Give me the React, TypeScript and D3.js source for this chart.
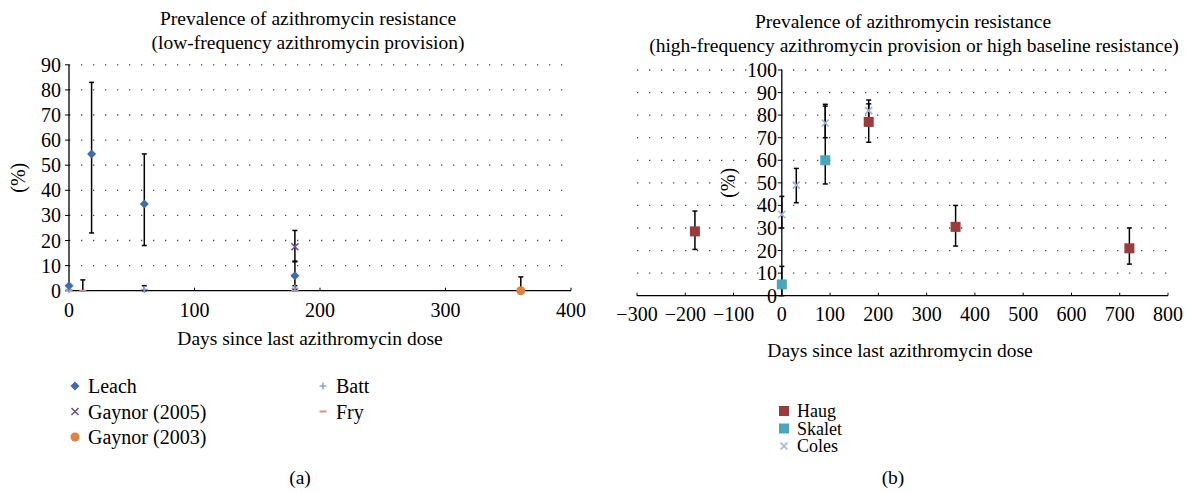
import * as d3 from 'd3';

// ---- panel (a): low-frequency provision ----
const leachX = [0, 18, 60, 180];
const leachY = [2, 54.5, 34.5, 6];
const leachLo = [2, 23, 18, 0.5];
const leachHi = [2, 83, 54.5, 11.8];

const gaynor05X = [180];
const gaynor05Y = [17.5];
const gaynor05Lo = [11.5];
const gaynor05Hi = [24];

const gaynor03X = [360];
const gaynor03Y = [0];
const gaynor03Lo = [0];
const gaynor03Hi = [5.5];

const battX = [0, 60, 180];
const battY = [0.5, 0.5, 1];
const battLo = [0.5, 0, 0];
const battHi = [0.5, 2, 2];

const fryX = [0, 11, 180];
const fryY = [0, 0, 0];
const fryLo = [0, 0, 0];
const fryHi = [0, 4.3, 0];

const leftXTicks = [0, 100, 200, 300, 400];
const leftYTicks = [0, 10, 20, 30, 40, 50, 60, 70, 80, 90];

// ---- panel (b): high-frequency provision ----
const haugX = [-180, 180, 360, 720];
const haugY = [28.5, 77, 30.5, 21];
const haugLo = [20.5, 68, 22, 14];
const haugHi = [37.5, 86.7, 40, 30];

const skaletX = [0, 90];
const skaletY = [5, 60];
const skaletLo = [0, 49.5];
const skaletHi = [13, 84.8];

const colesX = [0, 30, 90, 180];
const colesY = [36, 49, 76.5, 82];
const colesLo = [30, 41.2, 70, 78];
const colesHi = [44, 56.4, 84, 85];

const rightXTicks = [-300, -200, -100, 0, 100, 200, 300, 400, 500, 600, 700, 800];
const rightYTicks = [0, 10, 20, 30, 40, 50, 60, 70, 80, 90, 100];

const FONT = "'Liberation Serif', 'DejaVu Serif', serif";
const FS = 20;

type Series = {
  name: string;
  x: number[];
  y: number[];
  lo: number[];
  hi: number[];
  shape: string;
  color: string;
};

const leftSeries: Series[] = [
  { name: 'Fry', x: fryX, y: fryY, lo: fryLo, hi: fryHi, shape: 'dash', color: '#d98e8c' },
  { name: 'Batt', x: battX, y: battY, lo: battLo, hi: battHi, shape: 'plus', color: '#8ea3cf' },
  { name: 'Gaynor (2003)', x: gaynor03X, y: gaynor03Y, lo: gaynor03Lo, hi: gaynor03Hi, shape: 'circle', color: '#e0813d' },
  { name: 'Gaynor (2005)', x: gaynor05X, y: gaynor05Y, lo: gaynor05Lo, hi: gaynor05Hi, shape: 'x', color: '#6b4f96' },
  { name: 'Leach', x: leachX, y: leachY, lo: leachLo, hi: leachHi, shape: 'diamond', color: '#3e6eaa' },
];

const rightSeries: Series[] = [
  { name: 'Coles', x: colesX, y: colesY, lo: colesLo, hi: colesHi, shape: 'x', color: '#9db2d8' },
  { name: 'Skalet', x: skaletX, y: skaletY, lo: skaletLo, hi: skaletHi, shape: 'square', color: '#4aa5bf' },
  { name: 'Haug', x: haugX, y: haugY, lo: haugLo, hi: haugHi, shape: 'square', color: '#9c3b3b' },
];

const Marker = ({ shape, color, cx, cy }: { shape: string; color: string; cx: number; cy: number }) => {
  if (shape === 'diamond')
    return <path d={`M${cx},${cy - 4.5}L${cx + 4.5},${cy}L${cx},${cy + 4.5}L${cx - 4.5},${cy}Z`} fill={color} />;
  if (shape === 'circle') return <circle cx={cx} cy={cy} r={4.5} fill={color} />;
  if (shape === 'square') return <rect x={cx - 5} y={cy - 5} width={10} height={10} fill={color} />;
  if (shape === 'x')
    return (
      <path d={`M${cx - 3.5},${cy - 3.5}L${cx + 3.5},${cy + 3.5}M${cx + 3.5},${cy - 3.5}L${cx - 3.5},${cy + 3.5}`} stroke={color} strokeWidth={1.6} />
    );
  if (shape === 'plus')
    return <path d={`M${cx - 3.5},${cy}L${cx + 3.5},${cy}M${cx},${cy - 3.5}L${cx},${cy + 3.5}`} stroke={color} strokeWidth={1.6} />;
  return <path d={`M${cx - 3.5},${cy}L${cx + 3.5},${cy}`} stroke={color} strokeWidth={2} />;
};

const Panel = ({
  x,
  y,
  xTicks,
  yTicks,
  series,
  yLabelX,
  yTickLabelX,
  xTickLabelY,
}: {
  x: d3.ScaleLinear<number, number>;
  y: d3.ScaleLinear<number, number>;
  xTicks: number[];
  yTicks: number[];
  series: Series[];
  yLabelX: number;
  yTickLabelX: number;
  xTickLabelY: number;
}) => {
  const [x0, x1] = x.range();
  const ax = x(0);
  const top = y(yTicks[yTicks.length - 1]);
  const fmt = (v: number) => (v < 0 ? '\u2212' + Math.abs(v) : String(v));
  return (
    <g style={{ fontFamily: FONT }}>
      {/* dotted grid */}
      {yTicks.filter((t) => t > 0).map((t) => (
        <line key={'g' + t} x1={x0} x2={x1} y1={y(t)} y2={y(t)} stroke="#444" strokeWidth={1.3} strokeDasharray="1.3 10.7" />
      ))}
      {/* x axis */}
      <line x1={x0} x2={x1} y1={y(0)} y2={y(0)} stroke="#000" strokeWidth={1.3} />
      {xTicks.map((t) => (
        <g key={'x' + t}>
          <line x1={x(t)} x2={x(t)} y1={y(0)} y2={y(0) - 3} stroke="#000" />
          <text x={x(t)} y={xTickLabelY} textAnchor="middle" fontSize={FS}>
            {fmt(t)}
          </text>
        </g>
      ))}
      {/* y axis */}
      <line x1={ax} x2={ax} y1={y(0)} y2={top} stroke="#000" strokeWidth={1.3} />
      {yTicks.map((t) => (
        <g key={'y' + t}>
          <line x1={ax - 4} x2={ax} y1={y(t)} y2={y(t)} stroke="#000" />
          <text x={yTickLabelX} y={y(t)} dy="0.35em" textAnchor="end" fontSize={FS}>
            {t}
          </text>
        </g>
      ))}
      <text transform={`translate(${yLabelX},${(y(0) + top) / 2}) rotate(-90)`} textAnchor="middle" dy="0.35em" fontSize={FS}>
        (%)
      </text>
      {/* error bars */}
      {series.map((s) =>
        s.x.map((xv, i) =>
          s.hi[i] > s.lo[i] ? (
            <g key={s.name + 'e' + i} stroke="#000" strokeWidth={1.5}>
              <line x1={x(xv)} x2={x(xv)} y1={y(s.lo[i])} y2={y(s.hi[i])} />
              <line x1={x(xv) - 2.5} x2={x(xv) + 2.5} y1={y(s.lo[i])} y2={y(s.lo[i])} />
              <line x1={x(xv) - 2.5} x2={x(xv) + 2.5} y1={y(s.hi[i])} y2={y(s.hi[i])} />
            </g>
          ) : null
        )
      )}
      {/* markers */}
      {series.map((s) =>
        s.x.map((xv, i) => <Marker key={s.name + 'm' + i} shape={s.shape} color={s.color} cx={x(xv)} cy={y(s.y[i])} />)
      )}
    </g>
  );
};

const Legend = ({ items, x, y, step, fs }: { items: Series[]; x: number; y: number; step: number; fs: number }) => (
  <g style={{ fontFamily: FONT }}>
    {items.map((s, i) => (
      <g key={s.name}>
        <Marker shape={s.shape} color={s.color} cx={x} cy={y + i * step} />
        <text x={x + 13} y={y + i * step} dy="0.35em" fontSize={fs}>
          {s.name}
        </text>
      </g>
    ))}
  </g>
);

export default function App() {
  const lx = d3.scaleLinear().domain([0, 400]).range([69, 571]);
  const ly = d3.scaleLinear().domain([0, 90]).range([290.7, 64.8]);
  const rx = d3.scaleLinear().domain([-300, 800]).range([637, 1168]);
  const ry = d3.scaleLinear().domain([0, 100]).range([295.7, 70]);

  const byName = (list: Series[], names: string[]) => names.map((n) => list.find((s) => s.name === n)!);

  return (
    <svg width={1198} height={493} style={{ position: 'absolute', left: 0, top: 0, background: '#fff' }}>
      <g style={{ fontFamily: FONT }} fontSize={19.5} textAnchor="middle">
        <text x={308} y={25}>Prevalence of azithromycin resistance</text>
        <text x={308} y={49}>(low-frequency azithromycin provision)</text>
        <text x={903} y={28}>Prevalence of azithromycin resistance</text>
        <text x={914} y={52}>(high-frequency azithromycin provision or high baseline resistance)</text>
        <text x={310} y={345}>Days since last azithromycin dose</text>
        <text x={900} y={357}>Days since last azithromycin dose</text>
        <text x={300} y={484}>(a)</text>
        <text x={893} y={484}>(b)</text>
      </g>
      <Panel x={lx} y={ly} xTicks={leftXTicks} yTicks={leftYTicks} series={leftSeries} yLabelX={18} yTickLabelX={61} xTickLabelY={317} />
      <Panel x={rx} y={ry} xTicks={rightXTicks} yTicks={rightYTicks} series={rightSeries} yLabelX={728} yTickLabelX={777} xTickLabelY={321} />
      <Legend items={byName(leftSeries, ['Leach', 'Gaynor (2005)', 'Gaynor (2003)'])} x={75} y={386} step={25.5} fs={FS} />
      <Legend items={byName(leftSeries, ['Batt', 'Fry'])} x={323} y={386} step={25.5} fs={FS} />
      <Legend items={byName(rightSeries, ['Haug', 'Skalet', 'Coles'])} x={784} y={411} step={17.5} fs={18} />
    </svg>
  );
}
